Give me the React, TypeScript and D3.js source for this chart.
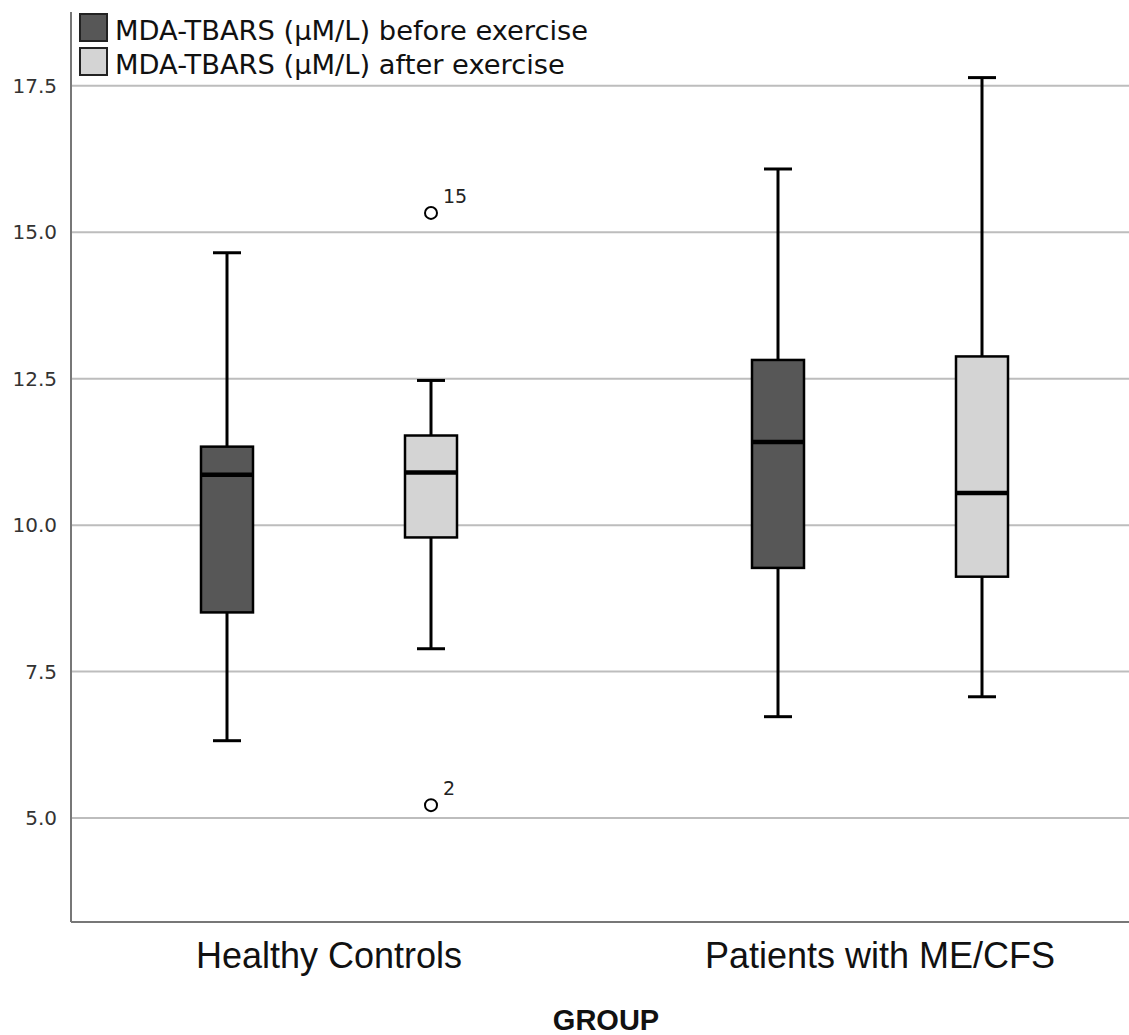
import React from "react";
import { scaleLinear, scalePoint } from "d3";

// groups on the x axis and the two series per group
const groups = ["Healthy Controls", "Patients with ME/CFS"];
const seriesKeys = ["before", "after"];
const seriesLabels = [
  "MDA-TBARS (\u03BCM/L) before exercise",
  "MDA-TBARS (\u03BCM/L) after exercise",
];
const seriesColors = { before: "#575757", after: "#d4d4d4" };

// five-number summaries: [low, q1, median, q3, high]
const healthyBefore = [6.32, 8.51, 10.86, 11.34, 14.65];
const healthyAfter = [7.89, 9.79, 10.9, 11.53, 12.47];
const patientsBefore = [6.73, 9.27, 11.42, 12.82, 16.08];
const patientsAfter = [7.07, 9.12, 10.55, 12.88, 17.64];

// outliers: [group, series, value, case label]
const outliers = [
  ["Healthy Controls", "after", 15.33, "15"],
  ["Healthy Controls", "after", 5.22, "2"],
];

const yTicks = [5.0, 7.5, 10.0, 12.5, 15.0, 17.5];

const boxes = [
  { group: groups[0], key: "before", s: healthyBefore },
  { group: groups[0], key: "after", s: healthyAfter },
  { group: groups[1], key: "before", s: patientsBefore },
  { group: groups[1], key: "after", s: patientsAfter },
];

const W = 1129;
const H = 1035;
const left = 71;
const right = 1129;
const top = 12;
const bottom = 922;

export default function App() {
  const y = scaleLinear().domain([3.225, 18.76]).range([bottom, top]);
  const x = scalePoint().domain(groups).range([329, 880]);
  const sub = scalePoint().domain(seriesKeys).range([-102, 102]);
  const boxW = 52;
  const capW = 28;
  const cx = (g, k) => x(g) + sub(k);

  return (
    <svg width={W} height={H} style={{ position: "absolute", left: 0, top: 0, background: "#fff" }}>
      <rect x={0} y={0} width={W} height={H} fill="#fff" />
      {/* grid */}
      {yTicks.map((t) => (
        <line key={t} x1={left} x2={right} y1={y(t)} y2={y(t)} stroke="#bdbdbd" strokeWidth={2} />
      ))}
      {/* y tick labels */}
      {yTicks.map((t) => (
        <text
          key={"l" + t}
          x={57}
          y={y(t)}
          dy="0.36em"
          textAnchor="end"
          fontFamily="DejaVu Sans"
          fontSize={20}
          fill="#333"
        >
          {t.toFixed(1)}
        </text>
      ))}
      {/* axes */}
      <line x1={left} x2={left} y1={top} y2={bottom} stroke="#777" strokeWidth={2} />
      <line x1={left} x2={right} y1={bottom} y2={bottom} stroke="#777" strokeWidth={2} />

      {/* boxes */}
      {boxes.map((b, i) => {
        const c = cx(b.group, b.key);
        const [lo, q1, med, q3, hi] = b.s;
        return (
          <g key={i}>
            <line x1={c} x2={c} y1={y(hi)} y2={y(q3)} stroke="#000" strokeWidth={3} />
            <line x1={c} x2={c} y1={y(q1)} y2={y(lo)} stroke="#000" strokeWidth={3} />
            <line x1={c - capW / 2} x2={c + capW / 2} y1={y(hi)} y2={y(hi)} stroke="#000" strokeWidth={3} />
            <line x1={c - capW / 2} x2={c + capW / 2} y1={y(lo)} y2={y(lo)} stroke="#000" strokeWidth={3} />
            <rect
              x={c - boxW / 2}
              y={y(q3)}
              width={boxW}
              height={y(q1) - y(q3)}
              fill={seriesColors[b.key]}
              stroke="#000"
              strokeWidth={2.5}
            />
            <line x1={c - boxW / 2} x2={c + boxW / 2} y1={y(med)} y2={y(med)} stroke="#000" strokeWidth={4.5} />
          </g>
        );
      })}

      {/* outliers */}
      {outliers.map(([g, k, v, lab], i) => (
        <g key={"o" + i}>
          <circle cx={cx(g, k)} cy={y(v)} r={6} fill="#fff" stroke="#000" strokeWidth={2} />
          <text x={cx(g, k) + 12} y={y(v) - 10} fontFamily="DejaVu Sans" fontSize={19} fill="#222">
            {lab}
          </text>
        </g>
      ))}

      {/* legend */}
      {seriesKeys.map((k, i) => (
        <g key={"lg" + k} transform={`translate(80, ${14 + i * 34})`}>
          <rect x={0} y={0} width={27} height={27} fill={seriesColors[k]} stroke="#222" strokeWidth={2} />
          <text x={35} y={26} fontFamily="DejaVu Sans" fontSize={27.3} fill="#111">
            {seriesLabels[i]}
          </text>
        </g>
      ))}

      {/* x labels */}
      {groups.map((g) => (
        <text
          key={"x" + g}
          x={x(g)}
          y={968}
          textAnchor="middle"
          fontFamily="Liberation Sans"
          fontSize={36}
          fill="#111"
        >
          {g}
        </text>
      ))}
      <text
        x={606}
        y={1030}
        textAnchor="middle"
        fontFamily="Liberation Sans"
        fontWeight="bold"
        fontSize={29}
        fill="#111"
      >
        GROUP
      </text>
    </svg>
  );
}
